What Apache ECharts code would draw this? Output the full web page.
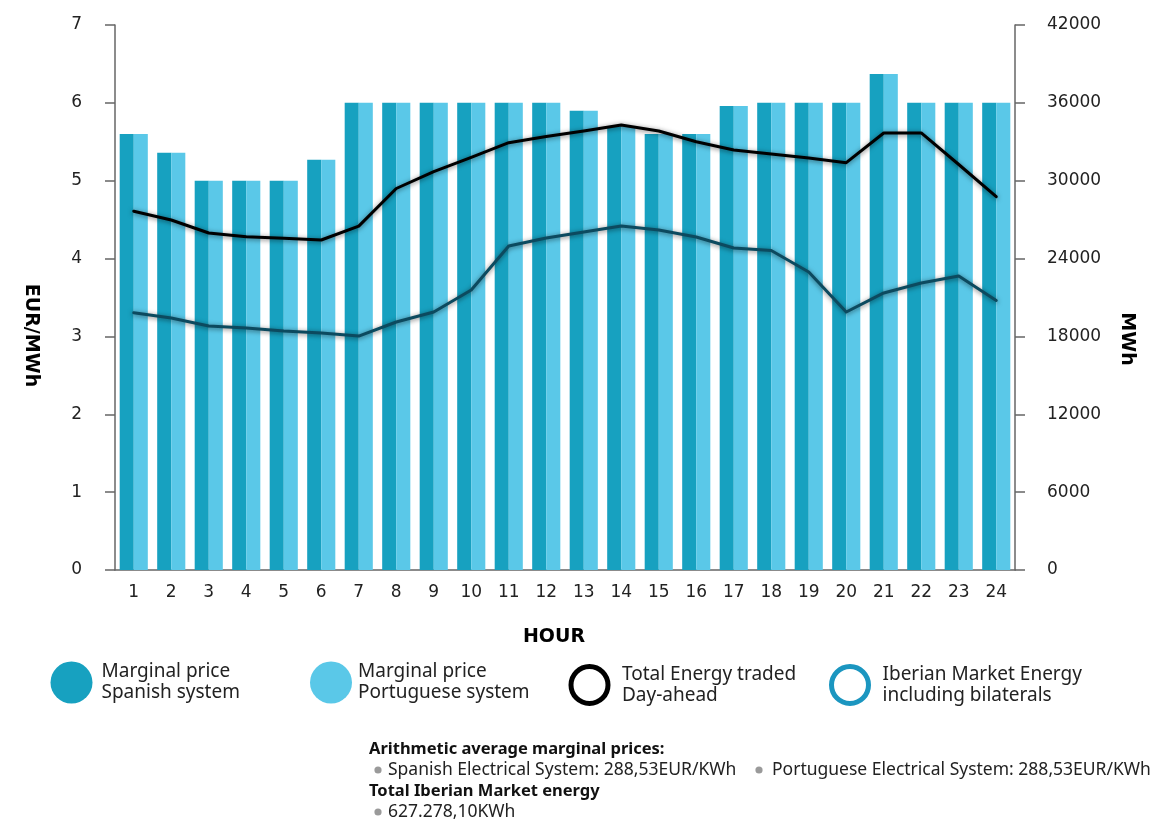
<!DOCTYPE html>
<html>
<head>
<meta charset="utf-8">
<script src="https://cdn.jsdelivr.net/npm/echarts@6/dist/echarts.min.js"></script>
<style>
html,body{margin:0;padding:0;background:#fff;}
#chart{width:1173px;height:821px;}
</style>
</head>
<body>
<div id="chart"></div>
<script>
const hours = ['1','2','3','4','5','6','7','8','9','10','11','12','13','14','15','16','17','18','19','20','21','22','23','24'];
const spanishPrice = [5.6, 5.36, 5.0, 5.0, 5.0, 5.27, 6.0, 6.0, 6.0, 6.0, 6.0, 6.0, 5.9, 5.7, 5.6, 5.6, 5.96, 6.0, 6.0, 6.0, 6.37, 6.0, 6.0, 6.0];
const portuguesePrice = [5.6, 5.36, 5.0, 5.0, 5.0, 5.27, 6.0, 6.0, 6.0, 6.0, 6.0, 6.0, 5.9, 5.7, 5.6, 5.6, 5.96, 6.0, 6.0, 6.0, 6.37, 6.0, 6.0, 6.0];
const totalEnergyDayAhead = [27650, 26970, 25970, 25690, 25560, 25430, 26500, 29400, 30700, 31800, 32930, 33400, 33830, 34300, 33830, 33000, 32370, 32060, 31750, 31390, 33680, 33680, 31250, 28770];
const iberianEnergy = [19830, 19420, 18800, 18650, 18420, 18260, 18030, 19110, 19880, 21580, 24970, 25580, 26050, 26510, 26200, 25660, 24810, 24620, 22960, 19880, 21350, 22120, 22660, 20770];
const leftTicks = {min: 0, max: 7, interval: 1};
const rightTicks = {min: 0, max: 42000, interval: 6000};
const legendNames = ['Marginal price\nSpanish system', 'Marginal price\nPortuguese system', 'Total Energy traded\nDay-ahead', 'Iberian Market Energy\nincluding bilaterals'];
const noteLines = ['Arithmetic average marginal prices:', 'Spanish Electrical System: 288,53EUR/KWh', 'Portuguese Electrical System: 288,53EUR/KWh', 'Total Iberian Market energy', '627.278,10KWh'];

const chart = echarts.init(document.getElementById('chart'));
const tickFont = 'DejaVu Sans';
const axisColor = '#666';
function legendText(pad) {
  return {fontSize: 19, fontFamily: 'Noto Sans', color: '#222', lineHeight: 21, padding: [0, 0, 0, pad]};
}
function legendAt(left, top, size, pad, item) {
  return {left: left, top: top, padding: 0, itemWidth: size, itemHeight: size, icon: 'circle', selectedMode: false, textStyle: legendText(pad), data: [item]};
}
const bullet = (x, y) => ({type: 'circle', shape: {cx: x, cy: y, r: 3.6}, style: {fill: '#9a9a9a'}, silent: true});
const note = (x, y, text, bold) => ({type: 'text', x: x, y: y, silent: true,
  style: {text: text, font: (bold ? 'bold 16.5px' : '17.5px') + ' "Noto Sans"', fill: bold ? '#111' : '#222', verticalAlign: 'middle'}});

const option = {
  animation: false,
  grid: {left: 115, right: 158, top: 25, bottom: 251, containLabel: false},
  legend: [
    legendAt(50.5, 661.5, 42, 4, {name: legendNames[0], itemStyle: {color: '#17a1c0', borderWidth: 0}}),
    legendAt(310, 661.5, 42, 1, {name: legendNames[1], itemStyle: {color: '#5ac8e8', borderWidth: 0}}),
    legendAt(568.5, 664, 37, 9, {name: legendNames[2], itemStyle: {color: 'transparent', borderColor: '#000', borderWidth: 5}}),
    legendAt(829, 664, 37, 9, {name: legendNames[3], itemStyle: {color: 'transparent', borderColor: '#1b96c0', borderWidth: 5}})
  ],
  xAxis: {
    type: 'category', data: hours,
    name: 'HOUR', nameLocation: 'middle', nameGap: 58,
    nameTextStyle: {fontFamily: tickFont, fontWeight: 'bold', fontSize: 19, color: '#000', padding: [0, 22, 0, 0]},
    axisLine: {lineStyle: {color: axisColor, width: 1.5}},
    axisTick: {length: 8, lineStyle: {color: axisColor, width: 1.5}},
    axisLabel: {fontFamily: tickFont, fontSize: 17, color: '#222', margin: 14}
  },
  yAxis: [
    {type: 'value', min: leftTicks.min, max: leftTicks.max, interval: leftTicks.interval, position: 'left',
      name: 'EUR/MWh', nameLocation: 'middle', nameGap: 75, nameRotate: -90,
      nameTextStyle: {fontFamily: tickFont, fontWeight: 'bold', fontSize: 19, color: '#000', padding: [0, 0, 0, 76]},
      axisLine: {show: true, lineStyle: {color: axisColor, width: 1.5}},
      axisTick: {show: true, length: 10, lineStyle: {color: axisColor, width: 1.5}},
      splitLine: {show: false},
      axisLabel: {fontFamily: tickFont, fontSize: 17, color: '#222', margin: 33}
    },
    {type: 'value', min: rightTicks.min, max: rightTicks.max, interval: rightTicks.interval, position: 'right',
      name: 'MWh', nameLocation: 'middle', nameGap: 102, nameRotate: -90,
      nameTextStyle: {fontFamily: tickFont, fontWeight: 'bold', fontSize: 19, color: '#000', padding: [0, 0, 0, 83]},
      axisLine: {show: true, lineStyle: {color: axisColor, width: 1.5}},
      axisTick: {show: true, length: 10, lineStyle: {color: axisColor, width: 1.5}},
      splitLine: {show: false},
      axisLabel: {fontFamily: tickFont, fontSize: 17, color: '#222', margin: 32, formatter: v => String(v)}
    }
  ],
  series: [
    {name: legendNames[0], type: 'bar', yAxisIndex: 0, data: spanishPrice, barGap: '0%', barCategoryGap: '25%', itemStyle: {color: '#17a1c0'}},
    {name: legendNames[1], type: 'bar', yAxisIndex: 0, data: portuguesePrice, barGap: '0%', barCategoryGap: '25%', itemStyle: {color: '#5ac8e8'}},
    {name: legendNames[2], type: 'line', yAxisIndex: 1, data: totalEnergyDayAhead, showSymbol: false, smooth: false,
      lineStyle: {color: '#000', width: 3, shadowBlur: 5, shadowColor: 'rgba(0,0,0,0.55)', shadowOffsetY: 1, cap: 'round', join: 'round'}, itemStyle: {color: '#000'}},
    {name: legendNames[3], type: 'line', yAxisIndex: 1, data: iberianEnergy, showSymbol: false, smooth: false,
      lineStyle: {color: '#0c4a5f', width: 3, shadowBlur: 5, shadowColor: 'rgba(0,0,0,0.55)', shadowOffsetY: 1, cap: 'round', join: 'round'}, itemStyle: {color: '#1b96c0'}}
  ],
  graphic: [
    note(369, 749, noteLines[0], true),
    bullet(378, 770), note(388, 770, noteLines[1], false),
    bullet(759, 770), note(772, 770, noteLines[2], false),
    note(369, 791, noteLines[3], true),
    bullet(378, 812), note(388, 812, noteLines[4], false)
  ]
};
chart.setOption(option);
</script>
</body>
</html>
